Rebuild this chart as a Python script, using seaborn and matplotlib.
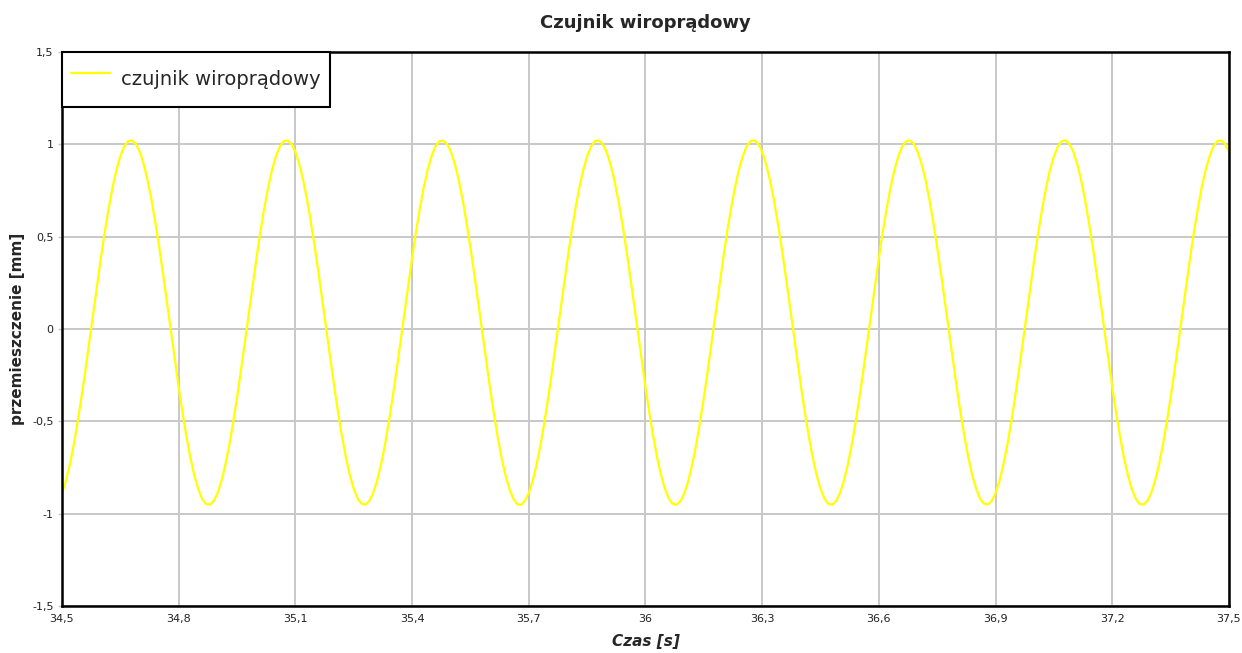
import numpy as np
import pandas as pd
import matplotlib
matplotlib.use("Agg")
import matplotlib.pyplot as plt
import seaborn as sns
from matplotlib.ticker import FuncFormatter

# one sample every 0.01 s starting at 34.5 s
T_START = 34.5
T_STEP = 0.01
displacement = [
    # 34.50 - 34.89
    -0.889, -0.823, -0.736, -0.630, -0.507, -0.372, -0.226, -0.073, 0.082, 0.235,
    0.384, 0.525, 0.653, 0.766, 0.861, 0.935, 0.988, 1.017, 1.022, 1.002,
    0.959, 0.893, 0.806, 0.700, 0.577, 0.442, 0.296, 0.143, -0.012, -0.165,
    -0.314, -0.455, -0.583, -0.696, -0.791, -0.865, -0.918, -0.947, -0.952, -0.932,
    # 34.90 - 35.29
    -0.889, -0.823, -0.736, -0.630, -0.507, -0.372, -0.226, -0.073, 0.082, 0.235,
    0.384, 0.525, 0.653, 0.766, 0.861, 0.935, 0.988, 1.017, 1.021, 1.002,
    0.959, 0.893, 0.806, 0.700, 0.577, 0.442, 0.296, 0.143, -0.012, -0.165,
    -0.314, -0.455, -0.583, -0.696, -0.791, -0.865, -0.918, -0.946, -0.951, -0.932,
    # 35.30 - 35.69
    -0.888, -0.823, -0.736, -0.630, -0.507, -0.372, -0.226, -0.073, 0.082, 0.235,
    0.384, 0.525, 0.653, 0.766, 0.861, 0.935, 0.988, 1.016, 1.020, 1.002,
    0.959, 0.893, 0.806, 0.700, 0.577, 0.442, 0.296, 0.143, -0.012, -0.165,
    -0.314, -0.455, -0.583, -0.696, -0.791, -0.865, -0.918, -0.948, -0.953, -0.932,
    # 35.70 - 36.09
    -0.889, -0.823, -0.736, -0.630, -0.507, -0.372, -0.226, -0.073, 0.082, 0.235,
    0.384, 0.525, 0.653, 0.766, 0.861, 0.935, 0.988, 1.017, 1.021, 1.002,
    0.959, 0.893, 0.806, 0.700, 0.577, 0.442, 0.296, 0.143, -0.012, -0.165,
    -0.314, -0.455, -0.583, -0.696, -0.791, -0.865, -0.918, -0.947, -0.952, -0.932,
    # 36.10 - 36.49
    -0.889, -0.823, -0.736, -0.630, -0.507, -0.372, -0.226, -0.073, 0.082, 0.235,
    0.384, 0.525, 0.653, 0.766, 0.861, 0.935, 0.988, 1.017, 1.022, 1.002,
    0.959, 0.893, 0.806, 0.700, 0.577, 0.442, 0.296, 0.143, -0.012, -0.165,
    -0.314, -0.455, -0.583, -0.696, -0.791, -0.865, -0.918, -0.947, -0.952, -0.932,
    # 36.50 - 36.89
    -0.889, -0.823, -0.736, -0.630, -0.507, -0.372, -0.226, -0.073, 0.082, 0.235,
    0.384, 0.525, 0.653, 0.766, 0.861, 0.935, 0.988, 1.017, 1.021, 1.002,
    0.959, 0.893, 0.806, 0.700, 0.577, 0.442, 0.296, 0.143, -0.012, -0.165,
    -0.314, -0.455, -0.583, -0.696, -0.791, -0.865, -0.918, -0.946, -0.951, -0.932,
    # 36.90 - 37.29
    -0.889, -0.823, -0.736, -0.630, -0.507, -0.372, -0.226, -0.073, 0.082, 0.235,
    0.384, 0.525, 0.653, 0.766, 0.861, 0.935, 0.988, 1.017, 1.022, 1.002,
    0.959, 0.893, 0.806, 0.700, 0.577, 0.442, 0.296, 0.143, -0.012, -0.165,
    -0.314, -0.455, -0.583, -0.696, -0.791, -0.865, -0.918, -0.947, -0.952, -0.932,
    # 37.30 - 37.50
    -0.889, -0.823, -0.736, -0.630, -0.507, -0.372, -0.226, -0.073, 0.082, 0.235,
    0.384, 0.525, 0.653, 0.766, 0.861, 0.935, 0.988, 1.017, 1.021, 1.002,
    0.959,
]

x_ticks = [34.5, 34.8, 35.1, 35.4, 35.7, 36.0, 36.3, 36.6, 36.9, 37.2, 37.5]
y_ticks = [-1.5, -1.0, -0.5, 0.0, 0.5, 1.0, 1.5]


def comma_fmt(v, _pos):
    return f"{round(v, 2):g}".replace(".", ",")


def main():
    time = [round(T_START + i * T_STEP, 3) for i in range(len(displacement))]
    df = pd.DataFrame({"Czas": time, "przemieszczenie": displacement})

    sns.set_style("white")
    plt.rcParams["font.family"] = ["DejaVu Sans"]

    fig = plt.figure(figsize=(12.42, 6.53), dpi=100)
    ax = fig.add_axes([0.0499, 0.072, 0.9396, 0.8484])

    sns.lineplot(data=df, x="Czas", y="przemieszczenie", color="#ffff00",
                 linewidth=1.6, label="czujnik wiroprądowy", ax=ax)

    ax.set_xlim(34.5, 37.5)
    ax.set_ylim(-1.5, 1.5)
    ax.set_xticks(x_ticks)
    ax.set_yticks(y_ticks)
    ax.xaxis.set_major_formatter(FuncFormatter(comma_fmt))
    ax.yaxis.set_major_formatter(FuncFormatter(comma_fmt))
    ax.grid(True, color="#c8c8c8", linewidth=1.4)
    ax.set_axisbelow(True)
    ax.tick_params(axis="both", labelsize=8, colors="#222222",
                   length=3, width=1, left=True, bottom=False, pad=3)
    ax.tick_params(axis="y", color="#c8c8c8")
    for sp in ax.spines.values():
        sp.set_color("black")
        sp.set_linewidth(1.8)

    ax.set_title("Czujnik wiroprądowy", fontsize=13, fontweight="bold", pad=17)
    ax.set_xlabel("Czas [s]", fontsize=11, fontweight="bold",
                  fontstyle="italic", labelpad=7)
    ax.set_ylabel("przemieszczenie [mm]", fontsize=11, fontweight="bold",
                  labelpad=5)

    leg = ax.legend(loc="upper left", bbox_to_anchor=(0.0, 1.0),
                    borderaxespad=0.0, fontsize=14, frameon=True,
                    fancybox=False, handlelength=2.0, handleheight=2.6,
                    handletextpad=0.6, borderpad=0.45)
    leg.get_frame().set_edgecolor("black")
    leg.get_frame().set_linewidth(1.5)
    leg.get_frame().set_alpha(1.0)

    fig.savefig("out.png", dpi=100)


if __name__ == "__main__":
    main()
